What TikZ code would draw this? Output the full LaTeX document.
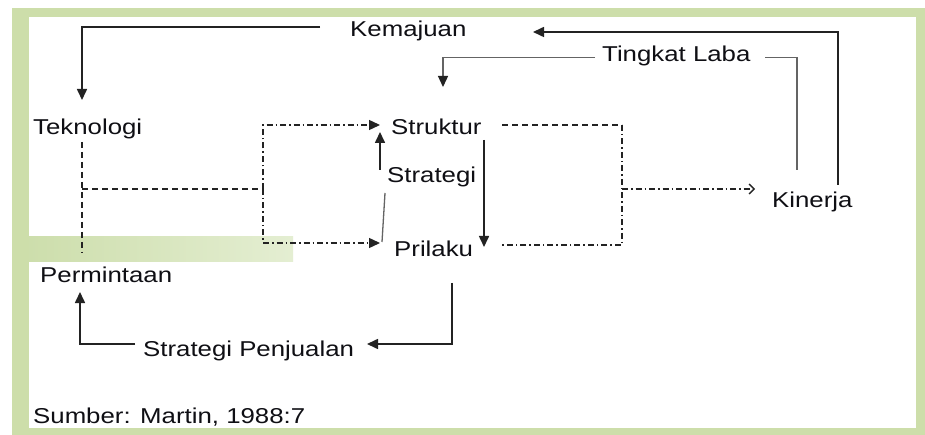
\documentclass[tikz,border=0pt]{standalone}
\usepackage{fontspec}
\setmainfont[FakeStretch=1.2]{Liberation Sans}
\usetikzlibrary{arrows.meta}
\definecolor{frameG}{RGB}{205,222,170}
\definecolor{stripL}{RGB}{205,222,172}
\definecolor{stripR}{RGB}{228,238,210}
\definecolor{inkC}{RGB}{15,15,20}
\definecolor{lineC}{RGB}{35,35,35}
\definecolor{greyC}{RGB}{100,100,100}
\begin{document}
\begin{tikzpicture}[x=1pt,y=-1pt,
  lbl/.style={anchor=base west,inner sep=0pt,font=\fontsize{21.5}{24}\selectfont,text=inkC},
  ln/.style={draw=lineC,line width=1.6pt},
  gln/.style={draw=greyC,line width=1.3pt},
  tri/.style={-{Triangle[length=11pt,width=10pt,color=lineC]}},
  barb/.style={-{Straight Barb[length=5pt,width=10pt,line width=1.3pt]}},
  dd/.style={draw=lineC,line width=1.4pt,dash pattern=on 6pt off 3pt on 1.5pt off 3pt},
  dsh/.style={draw=lineC,line width=1.4pt,dash pattern=on 6pt off 4pt}]
\useasboundingbox (0,0) rectangle (925,435);
\fill[white] (0,0) rectangle (925,435);
\fill[frameG] (12,8) rectangle (925,435);
\fill[white] (29,17) rectangle (916,428);
\shade[left color=stripL,right color=stripR] (29,237) rectangle (293,262);

% labels
\node[lbl] (kem) at (350,37) {Kemajuan};
\node[lbl] (tl) at (602,62) {Tingkat Laba};
\node[lbl] (tek) at (33,135) {Teknologi};
\node[lbl] (str) at (391,135) {Struktur};
\node[lbl] (strat) at (387,183) {Strategi};
\node[lbl] (pri) at (394,257) {Prilaku};
\node[lbl] (kin) at (772,208) {Kinerja};
\node[lbl] (per) at (40,283) {Permintaan};
\node[lbl] (sp) at (143,356) {Strategi Penjualan};
\node[lbl] (src) at (33,423) {Sumber: Martin, 1988:7};

% connector end points
\coordinate (kemL) at (320,27);
\coordinate (tekT) at (82,100);
\coordinate (kinR) at (838,185);
\coordinate (kemR) at (533,32);
\coordinate (kinM) at (797,170);
\coordinate (tlR) at (765,57.5);
\coordinate (tlL) at (595,57.5);
\coordinate (strT) at (443,87);
\coordinate (stratT) at (380,170);
\coordinate (strB) at (380,132);
\coordinate (stratB) at (385,193);
\coordinate (priT) at (382,242);
\coordinate (strR) at (484,140);
\coordinate (priR) at (484,247);
\coordinate (lc) at (263,189);
\coordinate (strW) at (380,125);
\coordinate (priW) at (380,243);
\coordinate (strE) at (502,125);
\coordinate (rtc) at (622,125);
\coordinate (rbc) at (622,245);
\coordinate (priE) at (502,245);
\coordinate (rm) at (622,189);
\coordinate (kinW) at (755,189);
\coordinate (tekB) at (82,142);
\coordinate (perT) at (82,253);
\coordinate (tm) at (82,189);
\coordinate (priS) at (452,283);
\coordinate (spE) at (367,344);
\coordinate (spW) at (135,344);
\coordinate (perB) at (80,292);

% solid connectors
\draw[ln,tri] (kemL) -| (tekT);
\draw[ln,tri] (kinR) |- (kemR);
\draw[gln] (kinM) |- (tlR);
\draw[gln,tri] (tlL) -| (strT);
\draw[ln,tri] (stratT) -- (strB);
\draw[gln] (stratB) -- (priT);
\draw[ln,tri] (strR) -- (priR);
\draw[ln,tri] (priS) |- (spE);
\draw[ln,tri] (spW) -| (perB);

% dashed connectors
\draw[dd,tri] (lc) |- (strW);
\draw[dd,tri] (lc) |- (priW);
\draw[dsh] (strE) -- (rtc);
\draw[dd] (rtc) -- (rbc) -- (priE);
\draw[dd,barb] (rm) -- (kinW);
\draw[dsh] (tekB) -- (perT);
\draw[dsh] (tm) -- (lc);
\end{tikzpicture}
\end{document}
